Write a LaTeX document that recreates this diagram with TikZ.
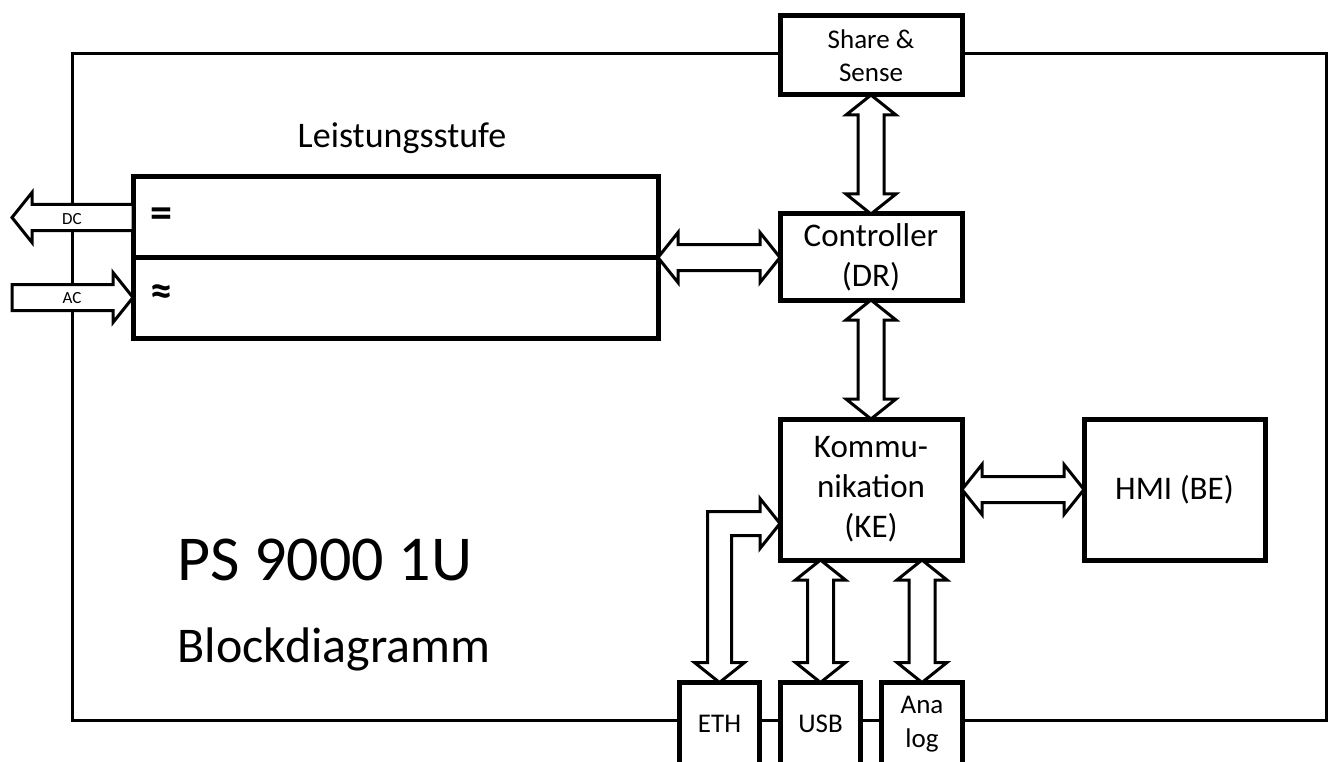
\documentclass[tikz,border=0pt]{standalone}
\usepackage{fontspec}
\setmainfont{Carlito}
\usetikzlibrary{calc}
\tikzset{
  blk/.style={draw=black, line width=5pt, fill=white, inner sep=0pt, outer sep=0pt, align=center},
  arrw/.style={draw=black, line width=3pt, fill=white, line join=miter},
  frm/.style={draw=black, line width=3pt},
  big/.style={font=\fontsize{33}{40}\selectfont},
  mid/.style={font=\fontsize{27}{34}\selectfont},
  sym/.style={font=\fontsize{44}{48}\selectfont\bfseries, inner sep=0pt},
  tiny/.style={font=\fontsize{17}{19}\selectfont},
}
% vertical double arrow from #1 (upper) to #2 (lower), x of #1
\newcommand{\VArrow}[2]{%
  \path[arrw] let \p1=(#1), \p2=(#2) in
   (\x1,\y1) -- (\x1+25pt,\y1-20pt) -- (\x1+13pt,\y1-20pt) -- (\x1+13pt,\y2+20pt)
   -- (\x1+25pt,\y2+20pt) -- (\x1,\y2) -- (\x1-25pt,\y2+20pt) -- (\x1-13pt,\y2+20pt)
   -- (\x1-13pt,\y1-20pt) -- (\x1-25pt,\y1-20pt) -- cycle;}
% horizontal double arrow from #1 (left) to #2 (right), y of #1
\newcommand{\HArrow}[2]{%
  \path[arrw] let \p1=(#1), \p2=(#2) in
   (\x1,\y1) -- (\x1+20pt,\y1+25pt) -- (\x1+20pt,\y1+13pt) -- (\x2-20pt,\y1+13pt)
   -- (\x2-20pt,\y1+25pt) -- (\x2,\y1) -- (\x2-20pt,\y1-25pt) -- (\x2-20pt,\y1-13pt)
   -- (\x1+20pt,\y1-13pt) -- (\x1+20pt,\y1-25pt) -- cycle;}
\begin{document}
\begin{tikzpicture}[x=1pt,y=-1pt]
\useasboundingbox (0,0) rectangle (1330,762);
% outer frame
\draw[frm] (72,54) rectangle (1326,720);

% blocks
\node[blk, font=\fontsize{27}{33}\selectfont, minimum width=182pt, minimum height=79pt] (ss) at (871,55.5) {Share \&\\Sense};
\node[blk, big, minimum width=182pt, minimum height=86pt] (ctrl) at (871,257) {Controller\\(DR)};
\node[blk, big, minimum width=182pt, minimum height=141pt] (kom) at (871,489.5) {Kommu-\\nikation\\(KE)};
\node[blk, big, minimum width=181pt, minimum height=141pt] (hmi) at (1174.5,489.5) {HMI (BE)};
\node[blk, minimum width=525pt, minimum height=161pt] (ls) at (395.5,257.5) {};
\draw[line width=5pt] (ls.west) -- (ls.east);
\node[blk, mid, minimum width=80pt, minimum height=82.5pt] (eth) at (719.5,723.75) {ETH};
\node[blk, mid, minimum width=80pt, minimum height=82.5pt] (usb) at (820.5,723.75) {USB};
\node[blk, mid, minimum width=81pt, minimum height=82.5pt] (ana) at (922,723.75) {Ana\\log};

% texts
\node[anchor=base, font=\fontsize{36}{40}\selectfont] (lstitle) at (402,148) {Leistungsstufe};
\node[sym] (eq) at (161,217.5) {=};
\node[sym] (approx) at (161,295) {≈};
\node[anchor=base west, font=\fontsize{64}{70}\selectfont] (title) at (174,580) {PS 9000 1U};
\node[anchor=base west, font=\fontsize{50}{56}\selectfont] (subtitle) at (174,662) {Blockdiagramm};

% connectors
\VArrow{ss.south}{ctrl.north}
\VArrow{ctrl.south}{kom.north}
\VArrow{usb.north |- kom.south}{usb.north}
\VArrow{ana.north |- kom.south}{ana.north}
\HArrow{ls.east}{ctrl.west}
\HArrow{kom.east}{hmi.west}

% ETH elbow arrow
\coordinate (ethin) at ([yshift=-34pt]kom.west);
\path[arrw] let \p1=(eth.north), \p2=(ethin) in
  (\x2,\y2) -- (\x2-20pt,\y2+25pt) -- (\x2-20pt,\y2+12pt) -- (\x1-12pt,\y2+12pt)
  -- (\x1-12pt,\y1+20pt) -- (\x1-25pt,\y1+20pt) -- (\x1,\y1) -- (\x1+25pt,\y1+20pt)
  -- (\x1+12pt,\y1+20pt) -- (\x1+12pt,\y2-12pt) -- (\x2-20pt,\y2-12pt)
  -- (\x2-20pt,\y2-25pt) -- cycle;

% DC output arrow
\coordinate (dctip) at (12,217.5);
\path[arrw] let \p1=(dctip), \p2=(ls.west) in
  (\x1,\y1) -- (\x1+20pt,\y1+25pt) -- (\x1+20pt,\y1+13pt) -- (\x2,\y1+13pt)
  -- (\x2,\y1-13pt) -- (\x1+20pt,\y1-13pt) -- (\x1+20pt,\y1-25pt) -- cycle;
% AC input arrow
\coordinate (actail) at (12,297.5);
\path[arrw] let \p1=(actail), \p2=(ls.west) in
  (\x1,\y1+13pt) -- (\x2-20pt,\y1+13pt) -- (\x2-20pt,\y1+25pt) -- (\x2,\y1)
  -- (\x2-20pt,\y1-25pt) -- (\x2-20pt,\y1-13pt) -- (\x1,\y1-13pt) -- cycle;
\node[tiny] (dclbl) at (72,219) {DC};
\node[tiny] (aclbl) at (72,298) {AC};
\end{tikzpicture}
\end{document}
